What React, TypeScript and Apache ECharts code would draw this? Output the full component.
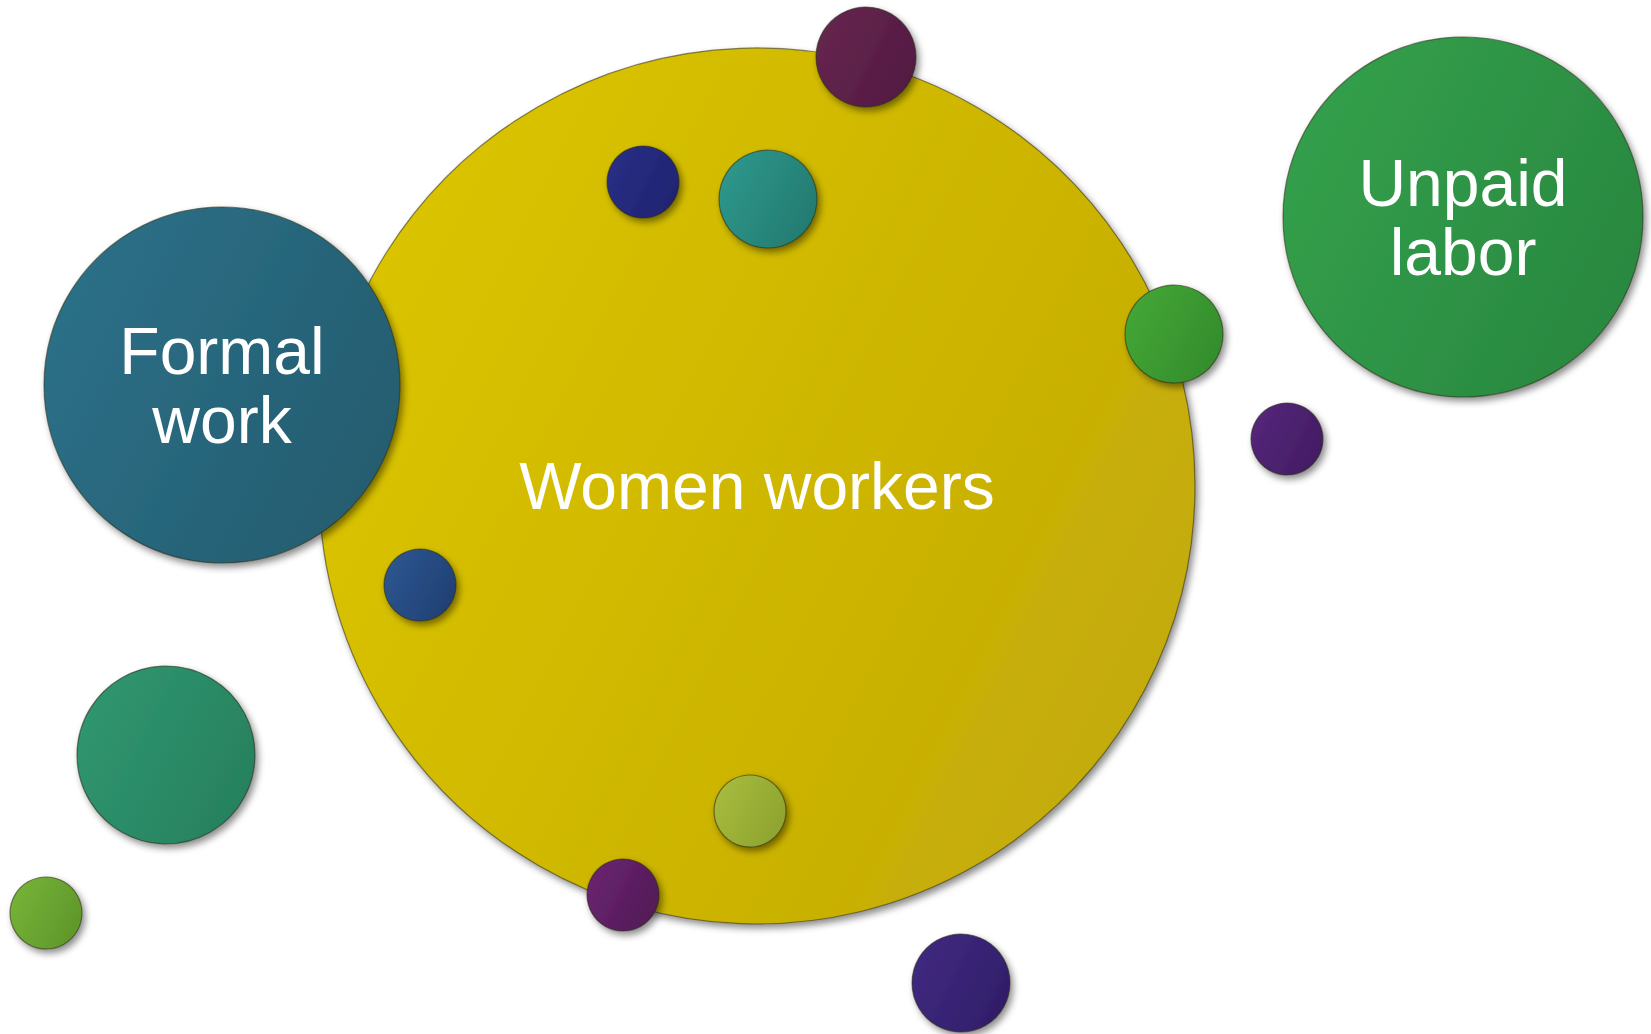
import React, { useEffect, useRef } from "react";
import * as echarts from "echarts";

const labels = ["Women workers", "Formal\nwork", "Unpaid\nlabor", "", "", "", "", "", "", "", "", "", "", ""];
const xs = [757, 222, 1463, 866, 643, 768, 1174, 1287, 420, 166, 46, 750, 623, 961];
const ys = [486, 385, 217, 57, 182, 199, 334, 439, 585, 755, 913, 811, 895, 983];
const radii = [438, 178, 180, 50, 36, 49, 49, 36, 36, 89, 36, 36, 36, 49];

const palette = [
  ["#dbc500", "#c3aa08"],
  ["#2c7088", "#245c6f"],
  ["#33a04c", "#29873f"],
  ["#66264f", "#521a42"],
  ["#2a2f85", "#1f2370"],
  ["#2e978b", "#237a70"],
  ["#44a636", "#338c2c"],
  ["#54267a", "#431c62"],
  ["#2c5690", "#213f73"],
  ["#2f9670", "#27805e"],
  ["#76b338", "#5e962a"],
  ["#a6bb3d", "#8ea32f"],
  ["#6a2470", "#511a56"],
  ["#3f2a80", "#311d68"],
];

export default function App() {
  const ref = useRef<HTMLDivElement>(null);
  useEffect(() => {
    if (!ref.current) return;
    const chart = echarts.init(ref.current, undefined, { renderer: "svg" });
    const data = xs.map((x, i) => ({
      value: [x, ys[i], radii[i]],
      itemStyle: {
        color: new echarts.graphic.LinearGradient(0, 0.25, 1, 0.75, [
          { offset: 0, color: palette[i][0] },
          { offset: 1, color: palette[i][1] },
        ]),
      },
      label: labels[i]
        ? {
            show: true,
            formatter: labels[i],
          }
        : { show: false },
    }));
    chart.setOption({
      animation: false,
      backgroundColor: "#ffffff",
      grid: { left: 0, right: 0, top: 0, bottom: 0 },
      xAxis: { type: "value", min: 0, max: 1651, show: false },
      yAxis: { type: "value", min: 0, max: 1034, inverse: true, show: false },
      series: [
        {
          type: "scatter",
          data,
          symbol: "circle",
          symbolSize: (v: number[]) => v[2] * 2,
          itemStyle: {
            opacity: 1,
            borderColor: "rgba(40,40,20,0.55)",
            borderWidth: 1.2,
            shadowColor: "rgba(0,0,0,0.45)",
            shadowBlur: 7,
            shadowOffsetX: 3,
            shadowOffsetY: 4,
          },
          label: {
            position: "inside",
            color: "#ffffff",
            fontFamily: "Liberation Sans, Arial, sans-serif",
            fontSize: 66,
            lineHeight: 69,
            align: "center",
          },
          emphasis: { disabled: true },
        },
      ],
    });
    return () => chart.dispose();
  }, []);
  return (
    <div
      ref={ref}
      style={{ position: "fixed", left: 0, top: 0, width: 1651, height: 1034 }}
    />
  );
}
